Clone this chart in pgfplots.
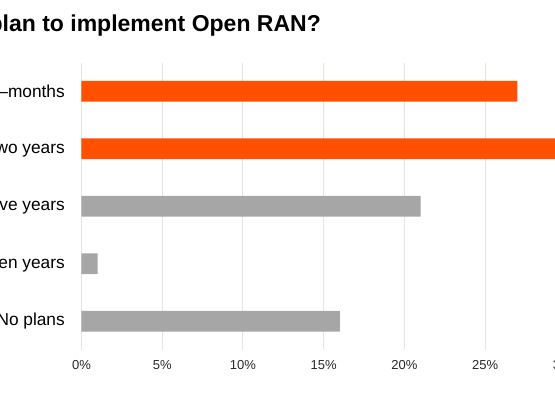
\documentclass[border=0pt]{standalone}
\usepackage{pgfplots}
\pgfplotsset{compat=1.18}
\usepackage{fontspec}
\setmainfont{Liberation Sans}
\definecolor{orbar}{HTML}{FF5000}
\definecolor{grbar}{HTML}{A6A6A6}
\definecolor{gridc}{HTML}{E4E4E4}
\begin{document}
\begin{tikzpicture}
\path[use as bounding box] (0,0) rectangle (555bp,393bp);
\clip (0,0) rectangle (555bp,393bp);
\begin{axis}[
  at={(81.5bp,43bp)}, anchor=south west,
  scale only axis, width=565bp, height=287.5bp,
  xmin=0, xmax=35, ymin=-0.5, ymax=4.5,
  xtick={0,5,10,15,20,25,30,35},
  xticklabels={0\%,5\%,10\%,15\%,20\%,25\%,30\%,35\%},
  ytick={0,1,2,3,4},
  yticklabels={No plans,Within ten years,Within five years,Within two years,Within 6–months},
  xmajorgrids, major grid style={draw=gridc, line width=0.9bp},
  axis line style={draw=none},
  major tick length=0pt,
  tick style={draw=none},
  xticklabel style={font=\fontsize{13bp}{16bp}\selectfont, anchor=north, inner sep=0pt, yshift=-10bp, text=black!85},
  yticklabel style={font=\fontsize{17.3bp}{20bp}\selectfont, anchor=east, inner sep=0pt, xshift=-16.5bp},
  xbar, bar width=20.6bp, bar shift=0pt,
  clip=false,
]
\addplot[fill=orbar, draw=none] coordinates {(27,4) (35,3)};
\addplot[fill=grbar, draw=none] coordinates {(21,2) (1,1) (16,0)};
\end{axis}
\node[anchor=base east, font=\bfseries\fontsize{23bp}{27bp}\selectfont, inner sep=0pt] at (321bp,361.3bp) {When do you plan to implement Open RAN?};
\end{tikzpicture}
\end{document}
